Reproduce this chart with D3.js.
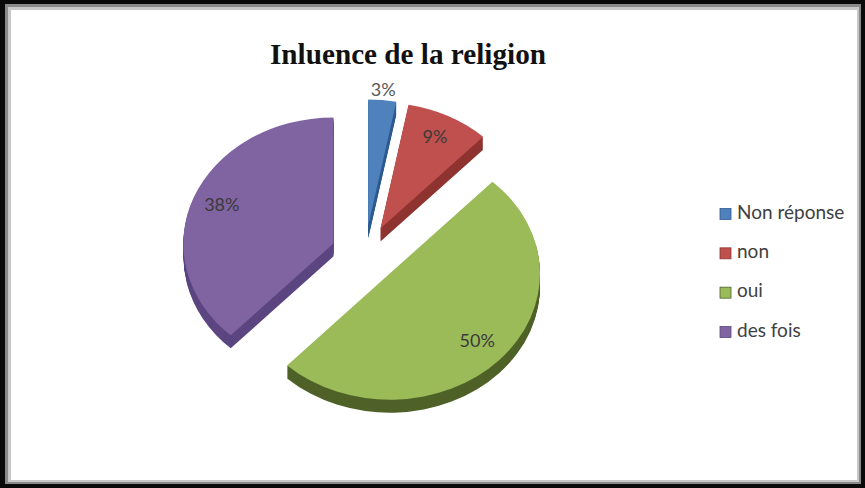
<!DOCTYPE html>
<html>
<head>
<meta charset="utf-8">
<script src="https://cdn.jsdelivr.net/npm/d3@7"></script>
<style>
  html, body { margin: 0; padding: 0; background: #fff; }
  svg { display: block; }
</style>
</head>
<body>
<div id="chart"></div>
<script>
const title = 'Inluence de la religion';
const categories = ['Non réponse', 'non', 'oui', 'des fois'];
const values = [3, 9, 50, 38];
const labels = ['3%', '9%', '50%', '38%'];

const width = 865;
const height = 488;
const topColors = ['#4f81bd', '#c0504d', '#9bbb59', '#8064a2'];
const sideColors = ['#2e5b90', '#8e3330', '#4f6228', '#5c4680'];

const svg = d3.select('#chart').append('svg')
    .attr('width', width)
    .attr('height', height);

// frame
svg.append('rect').attr('width', width).attr('height', height).attr('fill', '#0a0a0a');
svg.append('rect').attr('x', 5).attr('y', 4).attr('width', width - 9).attr('height', height - 8).attr('fill', '#8a8a8a');
svg.append('rect').attr('x', 8).attr('y', 7).attr('width', width - 14).attr('height', height - 13).attr('fill', '#c8c8c8');
svg.append('rect').attr('x', 11).attr('y', 10).attr('width', width - 19).attr('height', height - 18).attr('fill', '#fff');

svg.append('text')
    .attr('x', 408)
    .attr('y', 64)
    .attr('text-anchor', 'middle')
    .attr('font-family', 'Liberation Serif, Times New Roman, serif')
    .attr('font-weight', 'bold')
    .attr('font-size', 30)
    .attr('textLength', 276)
    .attr('lengthAdjust', 'spacingAndGlyphs')
    .attr('fill', '#111')
    .text(title);

// pie
const cx = 365, cy = 254;
const rx = 150, ry = 126;
const squash = ry / rx;
const explode = 34;
const depth = 13;

const pie = d3.pie().sort(null).value(d => d);
const arcs = pie(values);
const arc = d3.arc().innerRadius(0).outerRadius(rx);

const pieG = svg.append('g').attr('transform', `translate(${cx},${cy})`);

// back slices first, the big front slice last
const order = [0, 1, 3, 2];
order.forEach(i => {
  const a = arcs[i];
  const mid = (a.startAngle + a.endAngle) / 2;
  const ox = explode * Math.sin(mid);
  const oy = -explode * Math.cos(mid);
  const g = pieG.append('g');
  for (let k = depth; k >= 1; k--) {
    g.append('path')
        .attr('d', arc(a))
        .attr('fill', sideColors[i])
        .attr('transform', `translate(0,${k}) scale(1,${squash}) translate(${ox},${oy})`);
  }
  g.append('path')
      .attr('d', arc(a))
      .attr('fill', topColors[i])
      .attr('transform', `scale(1,${squash}) translate(${ox},${oy})`);
});

// data labels
arcs.forEach((a, i) => {
  const mid = (a.startAngle + a.endAngle) / 2;
  const span = a.endAngle - a.startAngle;
  const r = span < 0.3 ? rx * 1.07 : rx * 0.8;
  const dist = explode + r;
  pieG.append('text')
      .attr('x', dist * Math.sin(mid))
      .attr('y', -dist * Math.cos(mid) * squash)
      .attr('text-anchor', 'middle')
      .attr('dominant-baseline', 'middle')
      .attr('font-family', 'Lato, Open Sans, sans-serif')
      .attr('font-size', 18)
      .attr('fill', span < 0.3 ? '#595959' : '#3a3a3a')
      .text(labels[i]);
});

// legend
const legend = svg.append('g').attr('transform', 'translate(720,214)');
const rowY = d3.scalePoint().domain(categories).range([0, 118]);
categories.forEach((c, i) => {
  legend.append('rect')
      .attr('x', 0)
      .attr('y', rowY(c) - 5.5)
      .attr('width', 11)
      .attr('height', 11)
      .attr('fill', topColors[i])
      .attr('stroke', sideColors[i])
      .attr('stroke-width', 0.8);
  legend.append('text')
      .attr('x', 17)
      .attr('y', rowY(c))
      .attr('dominant-baseline', 'middle')
      .attr('font-family', 'Lato, Open Sans, sans-serif')
      .attr('font-size', 19)
      .attr('fill', '#404040')
      .text(c);
});
</script>
</body>
</html>
